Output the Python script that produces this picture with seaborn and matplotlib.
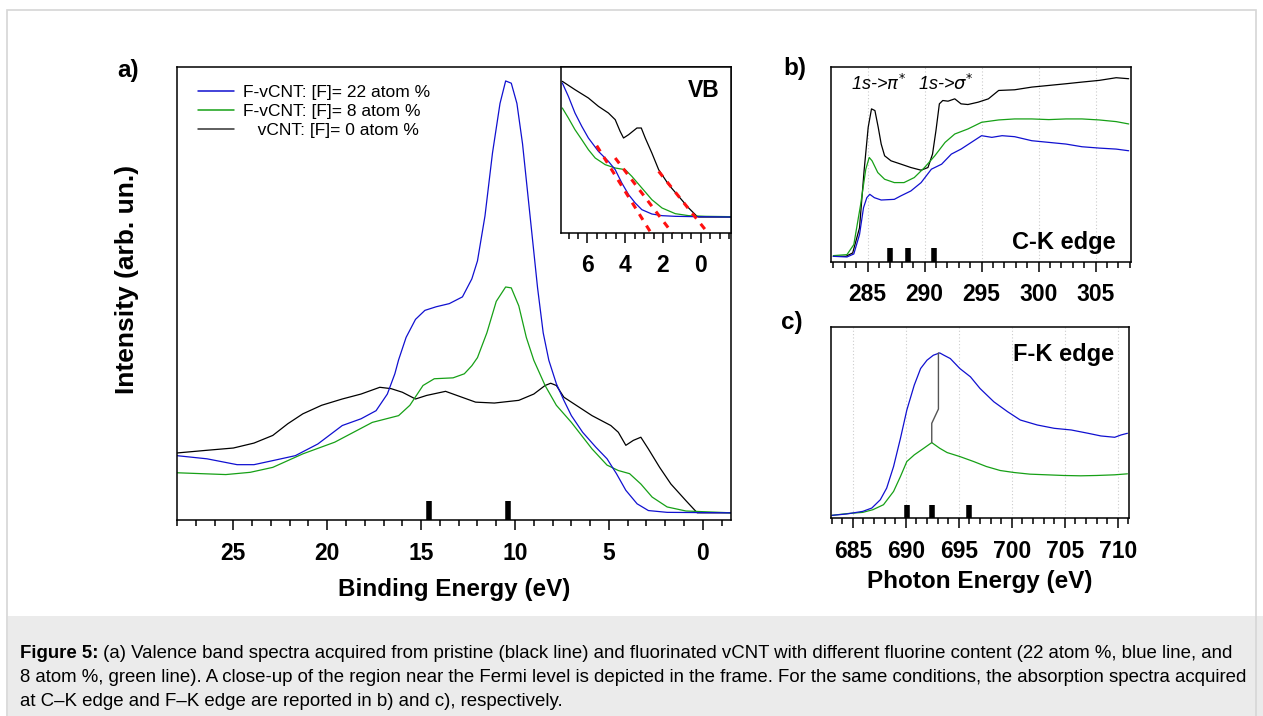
import numpy as np
import seaborn as sns
import matplotlib.pyplot as plt
from matplotlib.patches import Rectangle
from matplotlib.ticker import MultipleLocator

sns.set_theme(style='white')
plt.rcParams['font.family'] = ['Liberation Sans', 'DejaVu Sans']
plt.rcParams['axes.unicode_minus'] = False
plt.rcParams['text.color'] = 'black'
plt.rcParams['axes.labelcolor'] = 'black'
plt.rcParams['xtick.color'] = 'black'

BLUE = '#1010d0'
GREEN = '#16a016'
BLACK = '#000000'

# ---- a) valence band, binding energy (eV) / intensity (arb.)
vb_black_x = [28.0, 26.4, 25.0, 23.9, 22.9, 22.1, 21.3, 20.3, 19.2, 18.2, 17.2, 16.6, 16.0, 15.3, 14.7,
              13.7, 13.1, 12.1, 11.1, 9.8, 9.0, 8.4, 8.1, 7.8, 7.4, 7.0, 5.9, 4.9, 4.5, 4.1, 3.7, 3.3,
              2.9, 2.3, 1.7, 0.9, 0.3, -1.5]
vb_black_y = [13.3, 13.9, 14.4, 15.5, 17.2, 19.8, 22.0, 23.9, 25.3, 26.4, 27.9, 27.6, 26.8, 25.3, 26.1,
              27.0, 26.1, 24.6, 24.4, 25.0, 26.4, 28.3, 28.8, 28.3, 25.7, 24.6, 21.6, 19.4, 17.9, 15.0,
              16.1, 16.8, 14.2, 10.1, 6.4, 2.7, 0.0, 0.0]
vb_blue_x = [28.0, 26.4, 24.8, 23.9, 22.9, 21.7, 20.5, 19.2, 18.2, 17.4, 16.8, 16.4, 16.2, 15.8, 15.3,
             14.8, 14.2, 13.5, 12.8, 12.3, 12.0, 11.6, 11.2, 10.8, 10.5, 10.2, 9.9, 9.6, 9.2, 8.8, 8.5,
             8.2, 7.8, 7.4, 7.0, 6.4, 5.7, 5.1, 4.6, 4.1, 3.5, 2.9, 1.9, -1.5]
vb_blue_y = [12.7, 12.0, 10.7, 10.7, 11.6, 12.7, 15.3, 19.4, 20.9, 22.7, 26.4, 30.9, 34.0, 39.0, 43.0,
             45.0, 45.8, 46.5, 48.0, 52.0, 56.0, 66.0, 80.0, 91.0, 96.0, 95.5, 91.0, 82.0, 66.0, 50.0,
             40.0, 33.9, 28.7, 25.0, 21.6, 17.9, 14.6, 12.0, 8.7, 5.0, 2.0, 0.5, 0.1, 0.0]
vb_green_x = [28.0, 25.4, 24.1, 22.9, 21.3, 19.6, 17.6, 16.2, 15.6, 14.9, 14.3, 13.3, 12.7, 12.3, 12.0,
              11.5, 11.0, 10.5, 10.2, 9.8, 9.4, 9.0, 8.4, 7.8, 7.0, 5.9, 5.1, 4.5, 3.9, 3.3, 2.7, 1.9,
              0.9, -1.5]
vb_green_y = [8.9, 8.5, 9.0, 10.1, 13.1, 15.7, 20.1, 21.6, 23.9, 28.3, 29.8, 30.0, 30.9, 32.7, 34.5,
              40.0, 47.0, 50.2, 50.0, 46.0, 39.0, 33.9, 28.3, 23.9, 20.1, 14.2, 10.6, 9.4, 8.7, 6.4, 3.5,
              1.3, 0.4, 0.0]
vb_marks = [14.6, 10.4]

# ---- inset: region near the Fermi level
vbi_black_x = [7.33, 6.66, 5.95, 5.42, 4.89, 4.53, 4.27, 4.09, 3.82, 3.38, 3.15, 2.94, 2.59, 2.23, 1.70,
               1.17, 0.64, 0.20, 0.11, -1.6]
vbi_black_y = [407, 382, 357, 332, 312, 292, 257, 237, 247, 267, 267, 237, 192, 142, 97, 62, 27, 2, 0, 0]
vbi_blue_x = [7.33, 7.01, 6.66, 6.30, 5.95, 5.42, 4.89, 4.53, 4.18, 3.82, 3.47, 3.12, 2.59, 2.05, 1.35,
              0.28, -1.6]
vbi_blue_y = [402, 362, 312, 272, 237, 197, 167, 142, 102, 67, 42, 22, 9, 4, 2, 1, 0]
vbi_green_x = [7.33, 7.01, 6.66, 6.30, 5.95, 5.59, 5.06, 4.53, 4.00, 3.65, 3.12, 2.59, 2.05, 1.35, 0.64,
               -0.25, -1.6]
vbi_green_y = [327, 297, 262, 232, 202, 177, 157, 147, 142, 122, 87, 52, 27, 10, 4, 2, 1]
# linear fits of the leading edges (start/end points)
fit_x = [[5.51, 2.50], [4.53, 1.35], [2.23, -0.55]]
fit_y = [[214, -60], [177, -60], [137, -60]]

# ---- b) C-K edge
ck_x = [282.0, 283.1, 283.7, 284.3, 284.7, 285.06, 285.35, 285.65, 285.94, 286.2, 286.5, 287.06, 287.94,
        288.8, 289.7, 290.3, 290.7, 291.0, 291.3, 291.6, 292.06, 292.65, 293.2, 293.8, 294.7, 295.6,
        296.5, 297.9, 299.4, 300.9, 302.4, 303.8, 305.3, 306.8, 307.9]
ck_black = [17, 17, 27, 102, 272, 402, 457, 452, 402, 352, 317, 302, 292, 282, 274, 282, 322, 392, 472,
            482, 480, 487, 472, 470, 477, 487, 512, 514, 522, 527, 532, 537, 542, 550, 547]
ck_green_x = [282.0, 283.2, 283.8, 284.4, 284.85, 285.15, 285.4, 285.9, 286.5, 287.35, 288.2, 289.1, 290.0,
              290.9, 291.8, 292.65, 293.8, 295.0, 296.5, 297.9, 299.4, 300.9, 302.4, 303.8, 305.3, 306.8,
              307.9]
ck_green = [19, 22, 52, 172, 277, 312, 302, 267, 247, 237, 237, 252, 282, 317, 357, 382, 397, 417, 424,
            427, 427, 425, 427, 427, 424, 419, 412]
ck_blue_x = [282.0, 283.2, 283.8, 284.3, 284.65, 284.94, 285.2, 285.6, 286.2, 287.35, 287.9, 288.8, 289.7,
             290.6, 291.5, 292.35, 293.2, 294.1, 295.0, 295.9, 296.8, 297.9, 299.4, 300.9, 302.4, 303.8,
             305.3, 306.8, 307.9]
ck_blue = [17, 15, 24, 82, 162, 192, 202, 192, 185, 187, 197, 212, 237, 277, 292, 322, 337, 357, 377,
           372, 377, 374, 362, 357, 352, 344, 340, 337, 332]
ck_marks = [286.97, 288.56, 290.79]

# ---- c) F-K edge
fk_blue_x = [683.05, 684.4, 685.95, 686.8, 687.6, 688.2, 688.85, 689.5, 690.1, 690.8, 691.4, 692.0, 692.6,
             693.2, 693.6, 694.2, 695.1, 696.1, 697.0, 698.3, 699.6, 700.8, 702.4, 704.0, 705.6, 707.2,
             708.4, 709.7, 710.3, 710.9]
fk_blue = [8, 12, 20, 30, 55, 90, 155, 240, 325, 400, 450, 475, 490, 497, 490, 480, 450, 425, 390, 350,
           320, 295, 280, 270, 265, 255, 247, 243, 250, 255]
fk_green_x = [683.05, 684.4, 685.95, 686.9, 687.9, 688.85, 689.5, 690.1, 690.8, 691.7, 692.45, 693.2,
              693.9, 695.1, 696.4, 697.6, 698.9, 700.2, 701.7, 703.3, 704.9, 706.5, 708.0, 709.7, 710.9]
fk_green = [8, 13, 17, 25, 40, 80, 125, 170, 190, 210, 227, 210, 197, 185, 170, 155, 143, 137, 132, 130,
            128, 127, 128, 130, 133]
fk_link_x = [692.45, 692.45, 693.08, 693.08]
fk_link_y = [227, 285, 328, 497]
fk_marks = [690.13, 692.43, 695.96]

W, H = 1263, 716
LW = 0.9
fig = plt.figure(figsize=(W / 100, H / 100), dpi=100)


def box(l, t, r, b):
    return [l / W, 1 - b / H, (r - l) / W, (b - t) / H]


def style(ax, major, minor, size=16.5, pad=8):
    for s in ax.spines.values():
        s.set_visible(True)
        s.set_color('black')
        s.set_linewidth(1.1)
    ax.set_yticks([])
    ax.xaxis.set_major_locator(MultipleLocator(major))
    ax.xaxis.set_minor_locator(MultipleLocator(minor))
    ax.tick_params(axis='x', which='major', direction='out', length=7, width=1.1, color='black',
                   labelsize=size, pad=pad, bottom=True, labelcolor='black')
    ax.tick_params(axis='x', which='minor', direction='out', length=4, width=1.1, color='black',
                   bottom=True)
    ax.set_facecolor('white')


def bars(ax, xs, top):
    y0 = ax.get_ylim()[0]
    ax.vlines(xs, y0, top, color='black', lw=4)


# ---- panel a
ax = fig.add_axes(box(177, 67, 731, 520))
sns.lineplot(x=vb_black_x, y=vb_black_y, ax=ax, color=BLACK, lw=LW, sort=False,
             label='   vCNT: [F]= 0 atom %')
sns.lineplot(x=vb_green_x, y=vb_green_y, ax=ax, color=GREEN, lw=LW, sort=False,
             label='F-vCNT: [F]= 8 atom %')
sns.lineplot(x=vb_blue_x, y=vb_blue_y, ax=ax, color=BLUE, lw=LW, sort=False,
             label='F-vCNT: [F]= 22 atom %')
ax.set_xlim(28, -1.5)
ax.set_ylim(-1.6, 99.1)
style(ax, 5, 1, pad=9)
bars(ax, vb_marks, 2.7)
ax.set_xticks([25, 20, 15, 10, 5, 0])
ax.set_xticklabels(['25', '20', '15', '10', '5', '0'], fontweight='bold', fontsize=16.5)
ax.set_xlabel('Binding Energy (eV)', fontsize=17.5, fontweight='bold')
ax.xaxis.set_label_coords(0.5, -0.127)
ax.set_ylabel('Intensity (arb. un.)', fontsize=19, fontweight='bold')
ax.yaxis.set_label_coords(-0.068, 0.53)
h, l = ax.get_legend_handles_labels()
leg = ax.legend(h[::-1], l[::-1], loc='upper left', bbox_to_anchor=(0.025, 0.975), frameon=False,
                fontsize=12.5, handlelength=2.1, handletextpad=0.5, labelspacing=0.2, borderaxespad=0)
for ln in leg.get_lines():
    ln.set_linewidth(1.1)
leg.get_lines()[2].set_color('#333333')
fig.text(128 / W, 1 - 70 / H, 'a)', fontsize=17.5, fontweight='bold', ha='center', va='center')

# ---- inset
axi = fig.add_axes(box(561, 67, 731, 233))
sns.lineplot(x=vbi_black_x, y=vbi_black_y, ax=axi, color=BLACK, lw=LW, sort=False)
sns.lineplot(x=vbi_green_x, y=vbi_green_y, ax=axi, color=GREEN, lw=LW, sort=False)
sns.lineplot(x=vbi_blue_x, y=vbi_blue_y, ax=axi, color=BLUE, lw=LW, sort=False)
for fx, fy in zip(fit_x, fit_y):
    axi.plot(fx, fy, color='#ff1010', lw=2.2, ls=(0, (2.2, 2.2)))
axi.set_xlim(7.4, -1.6)
axi.set_ylim(-48, 450)
style(axi, 2, 0.5)
axi.set_xticks([6, 4, 2, 0])
axi.set_xticklabels(['6', '4', '2', '0'], fontweight='bold', fontsize=16.5)
axi.text(0.93, 0.86, 'VB', transform=axi.transAxes, fontsize=16.5, fontweight='bold', ha='right',
         va='center')

# ---- panel b
axb = fig.add_axes(box(831, 67, 1131, 262))
axb.grid(axis='x', color='#cccccc', ls=(0, (1, 2)), lw=0.8)
sns.lineplot(x=ck_x, y=ck_black, ax=axb, color=BLACK, lw=LW, sort=False)
sns.lineplot(x=ck_green_x, y=ck_green, ax=axb, color=GREEN, lw=LW, sort=False)
sns.lineplot(x=ck_blue_x, y=ck_blue, ax=axb, color=BLUE, lw=LW, sort=False)
axb.set_xlim(281.8, 308.1)
axb.set_ylim(0, 582)
style(axb, 5, 1)
axb.set_xticks([285, 290, 295, 300, 305])
axb.set_xticklabels(['285', '290', '295', '300', '305'], fontweight='bold', fontsize=16.5)
bars(axb, ck_marks, 42)
axb.text(285.95, 530, r'1s->$\pi^{*}$', fontsize=13, style='italic', ha='center', va='center')
axb.text(291.85, 530, r'1s->$\sigma^{*}$', fontsize=13, style='italic', ha='center', va='center')
axb.text(0.95, 0.1, 'C-K edge', transform=axb.transAxes, fontsize=17, fontweight='bold', ha='right',
         va='center')
fig.text(795 / W, 1 - 68 / H, 'b)', fontsize=17.5, fontweight='bold', ha='center', va='center')

# ---- panel c
axc = fig.add_axes(box(831, 327, 1129, 518))
axc.grid(axis='x', color='#cccccc', ls=(0, (1, 2)), lw=0.8)
sns.lineplot(x=fk_green_x, y=fk_green, ax=axc, color=GREEN, lw=LW, sort=False)
sns.lineplot(x=fk_blue_x, y=fk_blue, ax=axc, color=BLUE, lw=LW, sort=False)
axc.plot(fk_link_x, fk_link_y, color='#555555', lw=1.0)
axc.set_xlim(682.95, 711.05)
axc.set_ylim(0, 575)
style(axc, 5, 1, pad=9)
axc.set_xticks([685, 690, 695, 700, 705, 710])
axc.set_xticklabels(['685', '690', '695', '700', '705', '710'], fontweight='bold', fontsize=16.5)
bars(axc, fk_marks, 38)
axc.set_xlabel('Photon Energy (eV)', fontsize=17.5, fontweight='bold')
axc.xaxis.set_label_coords(0.5, -0.27)
axc.text(0.95, 0.855, 'F-K edge', transform=axc.transAxes, fontsize=17, fontweight='bold', ha='right',
         va='center')
fig.text(792 / W, 1 - 323 / H, 'c)', fontsize=17.5, fontweight='bold', ha='center', va='center')

# ---- frame and caption
fig.add_artist(Rectangle((8 / W, 0), 1, (716 - 616) / H, transform=fig.transFigure,
                         facecolor='#ebebeb', edgecolor='none', zorder=-5))
fig.add_artist(Rectangle((7 / W, -0.01), (1256 - 7) / W, 1 - 10 / H + 0.01, transform=fig.transFigure,
                         facecolor='none', edgecolor='#d6d6d6', lw=1.2, zorder=-4))

cap = [' (a) Valence band spectra acquired from pristine (black line) and fluorinated vCNT with '
       'different fluorine content (22 atom %, blue line, and',
       '8 atom %, green line). A close-up of the region near the Fermi level is depicted in the frame. '
       'For the same conditions, the absorption spectra acquired',
       'at C\u2013K edge and F\u2013K edge are reported in b) and c), respectively.']
cap_y = [653, 677, 701]
fs = 13.4
t0 = fig.text(20 / W, 1 - cap_y[0] / H, 'Figure 5:', fontsize=fs, fontweight='bold', va='center')
fig.canvas.draw()
bb = t0.get_window_extent(fig.canvas.get_renderer())
fig.text(bb.x1 / W, 1 - cap_y[0] / H, cap[0], fontsize=fs, va='center')
fig.text(20 / W, 1 - cap_y[1] / H, cap[1], fontsize=fs, va='center')
fig.text(20 / W, 1 - cap_y[2] / H, cap[2], fontsize=fs, va='center')

fig.savefig('out.png', dpi=100, facecolor='white')
